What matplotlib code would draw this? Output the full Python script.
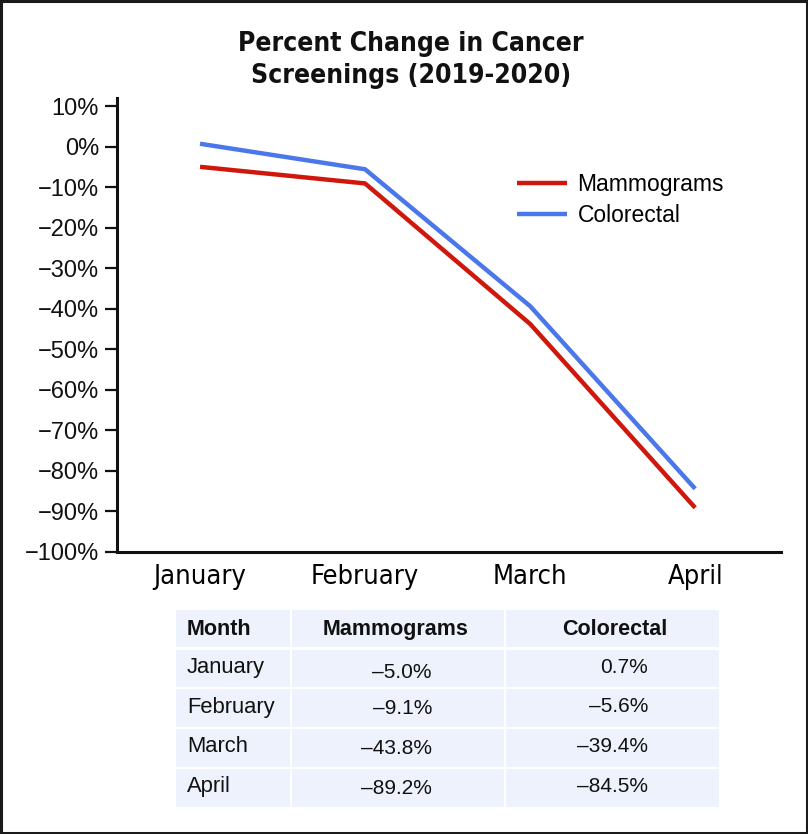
import matplotlib
matplotlib.use("Agg")
import matplotlib.pyplot as plt
from matplotlib import font_manager
from matplotlib.patches import Rectangle

# ---------------- data ----------------
months = ["January", "February", "March", "April"]
mammograms = [-5.0, -9.1, -43.8, -89.2]
colorectal = [0.7, -5.6, -39.4, -84.5]
series_names = ["Mammograms", "Colorectal"]
y_ticks = [10, 0, -10, -20, -30, -40, -50, -60, -70, -80, -90, -100]
table_header = ["Month", "Mammograms", "Colorectal"]
title = "Percent Change in Cancer\nScreenings (2019-2020)"

# ---------------- fonts ----------------
names = {f.name for f in font_manager.fontManager.ttflist}
narrow = "Liberation Sans Narrow" if "Liberation Sans Narrow" in names else None
base = "Liberation Sans" if "Liberation Sans" in names else "DejaVu Sans"
plt.rcParams["font.family"] = [base, "DejaVu Sans"]

def cond_kw(weight="normal"):
    if narrow:
        return dict(family=[narrow, "DejaVu Sans"], weight=weight)
    return dict(family=["DejaVu Sans"], stretch="condensed", weight=weight)

def fmt(v):
    s = f"{abs(v):.1f}%"
    return ("\u2013" + s) if v < 0 else s

W, H = 808, 834
fig = plt.figure(figsize=(W / 100, H / 100), dpi=100)
fig.patch.set_facecolor("white")

# outer border
fig.add_artist(Rectangle((0.0015, 0.0015), 0.997, 0.997, transform=fig.transFigure,
                         fill=False, edgecolor="#1a1a1a", linewidth=2.2))

# ---------------- line chart ----------------
ax = fig.add_axes([117 / W, 1 - 551.5 / H, (781 - 117) / W, (551.5 - 98) / H])
x = list(range(len(months)))
red = "#d0170c"
blue = "#4a78ea"
ax.plot(x, mammograms, color=red, lw=3.2, solid_capstyle="butt", label=series_names[0], zorder=3)
ax.plot(x, colorectal, color=blue, lw=3.2, solid_capstyle="butt", label=series_names[1], zorder=3)
ax.set_xlim(-0.503, 3.52)
ax.set_ylim(-100, 12)
ax.set_yticks(y_ticks)
ax.set_yticklabels([("\u2212" + f"{abs(t)}%") if t < 0 else f"{t}%" for t in y_ticks])
ax.set_xticks(x)
ax.set_xticklabels(months, fontsize=19.5, **cond_kw())
for s in ["top", "right"]:
    ax.spines[s].set_visible(False)
for s in ["left", "bottom"]:
    ax.spines[s].set_linewidth(2.2)
    ax.spines[s].set_color("#111111")
ax.tick_params(axis="y", length=9, width=1.6, labelsize=17, pad=4, color="#111111")
ax.tick_params(axis="x", length=0, pad=9)
for lbl in ax.get_yticklabels():
    lbl.set_color("#111111")

leg = ax.legend(loc="upper left", bbox_to_anchor=(0.571, 0.881), frameon=False,
                fontsize=16.5, handlelength=2.2, handletextpad=0.45, labelspacing=0.38)

fig.text(411 / W, 1 - 60 / H, title, ha="center", va="center", fontsize=19,
         linespacing=1.34, color="#111111", **cond_kw("bold"))

# ---------------- table ----------------
tx0, tx1, ty0, ty1 = 176, 719, 610, 807
tab = fig.add_axes([tx0 / W, 1 - ty1 / H, (tx1 - tx0) / W, (ty1 - ty0) / H])
tab.set_xlim(tx0, tx1)
tab.set_ylim(ty1, ty0)
tab.axis("off")
col_edges = [(176, 290), (292, 504), (506, 719)]
row_edges = [(610, 647), (650, 687), (689, 727), (729, 767), (769, 807)]
cell_color = "#edf2fc"
for (r0, r1) in row_edges:
    for (c0, c1) in col_edges:
        tab.add_patch(Rectangle((c0, r0), c1 - c0, r1 - r0, facecolor=cell_color,
                                edgecolor="none"))

# header
hy = (row_edges[0][0] + row_edges[0][1]) / 2 + 1
for txt, xx, ha in zip(table_header, [187, 396, 615], ["left", "center", "center"]):
    tab.text(xx, hy, txt, ha=ha, va="center", fontsize=15.5, weight="bold", color="#111111")

for i, m in enumerate(months):
    r0, r1 = row_edges[i + 1]
    yc = (r0 + r1) / 2
    tab.text(187, yc - 1, m, ha="left", va="center", fontsize=15.8, color="#111111")
    dy_m = 4 if i == 0 else 1
    tab.text(432, yc + dy_m, fmt(mammograms[i]), ha="right", va="center", fontsize=15,
             color="#111111")
    tab.text(648, yc - 1, fmt(colorectal[i]), ha="right", va="center", fontsize=15,
             color="#111111")

fig.savefig("out.png", dpi=100, facecolor="white")
